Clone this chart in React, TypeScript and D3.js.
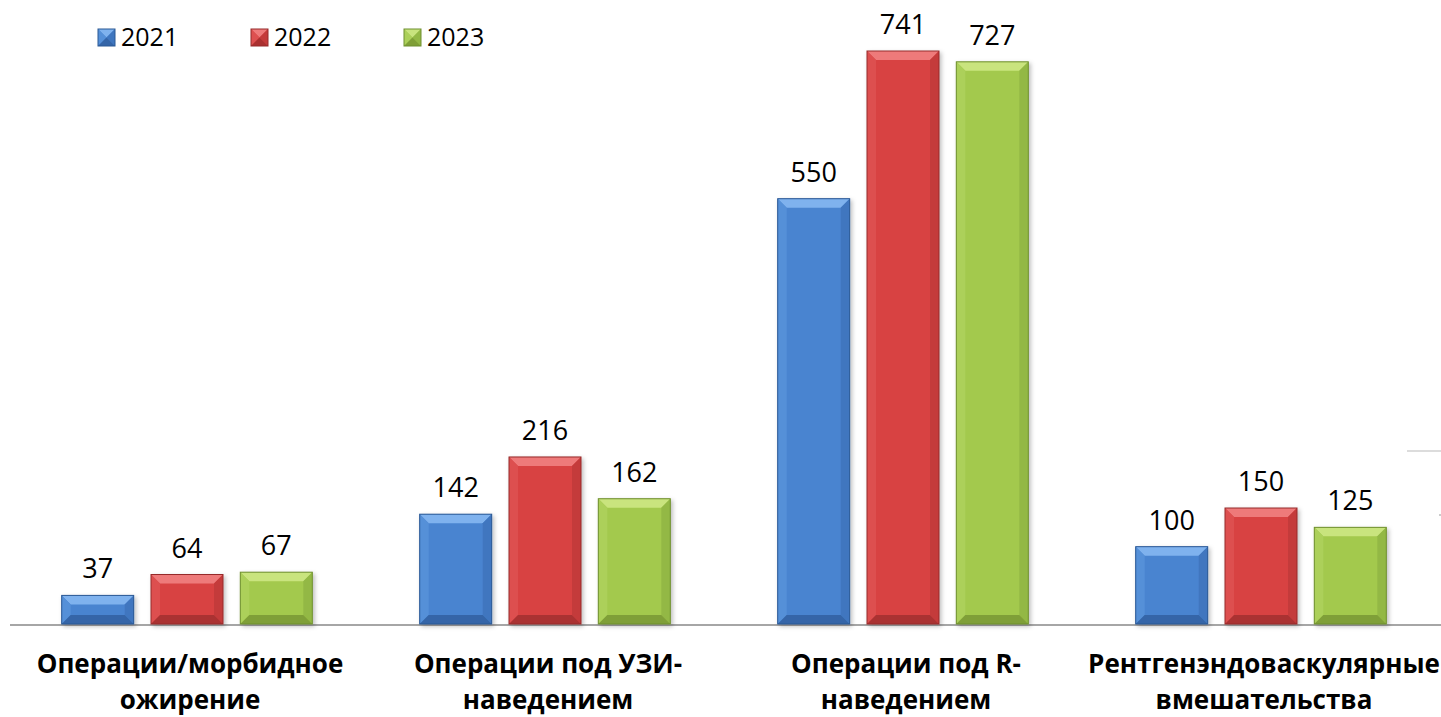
import React from "react";
import * as d3 from "d3";

const categories: string[][] = [
  ["Операции/морбидное", "ожирение"],
  ["Операции под УЗИ-", "наведением"],
  ["Операции под R-", "наведением"],
  ["Рентгенэндоваскулярные", "вмешательства"],
];
const seriesNames = ["2021", "2022", "2023"];
const values2021 = [37, 142, 550, 100];
const values2022 = [64, 216, 741, 150];
const values2023 = [67, 162, 727, 125];
const seriesValues = [values2021, values2022, values2023];

const palette = [
  { main: "#4a84d0", top: "#7fb2ee", left: "#5590d8", right: "#3f76bf", bottom: "#3465a8", stroke: "#2b5894" },
  { main: "#d84343", top: "#ee7a7a", left: "#dd5050", right: "#c43a3a", bottom: "#aa3030", stroke: "#962a2a" },
  { main: "#a3c94e", top: "#c9e47e", left: "#acd05a", right: "#93b845", bottom: "#7f9f37", stroke: "#6f8f30" },
];

const W = 1441;
const H = 717;
const FONT = "'Open Sans', 'Liberation Sans', sans-serif";

function Bevel({ x, y, w, h, c }: { x: number; y: number; w: number; h: number; c: typeof palette[0] }) {
  const b = Math.min(9, h / 2, w / 2);
  const pts = (a: number[][]) => a.map((p) => p.join(",")).join(" ");
  return (
    <g>
      <rect x={x} y={y} width={w} height={h} fill={c.main} />
      <polygon points={pts([[x, y], [x + w, y], [x + w - b, y + b], [x + b, y + b]])} fill={c.top} />
      <polygon points={pts([[x, y], [x + b, y + b], [x + b, y + h - b], [x, y + h]])} fill={c.left} />
      <polygon points={pts([[x + w, y], [x + w, y + h], [x + w - b, y + h - b], [x + w - b, y + b]])} fill={c.right} />
      <polygon points={pts([[x, y + h], [x + b, y + h - b], [x + w - b, y + h - b], [x + w, y + h]])} fill={c.bottom} />
      <rect x={x} y={y} width={w} height={h} fill="none" stroke={c.stroke} strokeWidth={1} />
    </g>
  );
}

export default function App() {
  const baseY = 624;
  const x0 = d3.scaleBand<number>().domain(d3.range(categories.length)).range([8, 1440]).paddingInner(0).paddingOuter(0);
  const y = d3.scaleLinear().domain([0, 800]).range([baseY, baseY - 800 * (573 / 741)]);
  const barW = 72;
  const step = 89.3;

  const legendX = [98, 251, 404];

  return (
    <svg width={W} height={H} style={{ position: "absolute", left: 0, top: 0, background: "#fff" }}>
      <defs>
        <filter id="sh" x="-20%" y="-20%" width="140%" height="140%">
          <feDropShadow dx="2" dy="2" stdDeviation="2" floodColor="#000" floodOpacity="0.25" />
        </filter>
      </defs>
      {seriesNames.map((s, i) => (
        <g key={s}>
          <Bevel x={legendX[i]} y={29} w={17} h={17} c={palette[i]} />
          <text x={legendX[i] + 23} y={46} fontFamily={FONT} fontSize={25} fill="#000">{s}</text>
        </g>
      ))}
      <line x1={10} x2={1441} y1={baseY + 1} y2={baseY + 1} stroke="#a6a6a6" strokeWidth={2} />
      <line x1={1407} x2={1441} y1={451} y2={451} stroke="#d0d0d0" strokeWidth={1.5} />
      <circle cx={1440} cy={515} r={1} fill="#bbb" />
      {categories.map((cat, ci) => {
        const cx = (x0(ci) as number) + x0.bandwidth() / 2;
        return (
          <g key={ci}>
            {seriesValues.map((vals, si) => {
              const v = vals[ci];
              const bx = cx + (si - 1) * step - barW / 2;
              const by = y(v);
              return (
                <g key={si}>
                  <g filter="url(#sh)">
                    <Bevel x={bx} y={by} w={barW} h={baseY - by} c={palette[si]} />
                  </g>
                  <text x={bx + barW / 2} y={by - 17} textAnchor="middle" fontFamily={FONT} fontSize={27} fill="#000">{v}</text>
                </g>
              );
            })}
            {cat.map((line, li) => (
              <text key={li} x={cx + 3} y={673 + li * 36} textAnchor="middle" fontFamily={FONT} fontWeight="bold" fontSize={26} fill="#000">{line}</text>
            ))}
          </g>
        );
      })}
    </svg>
  );
}
